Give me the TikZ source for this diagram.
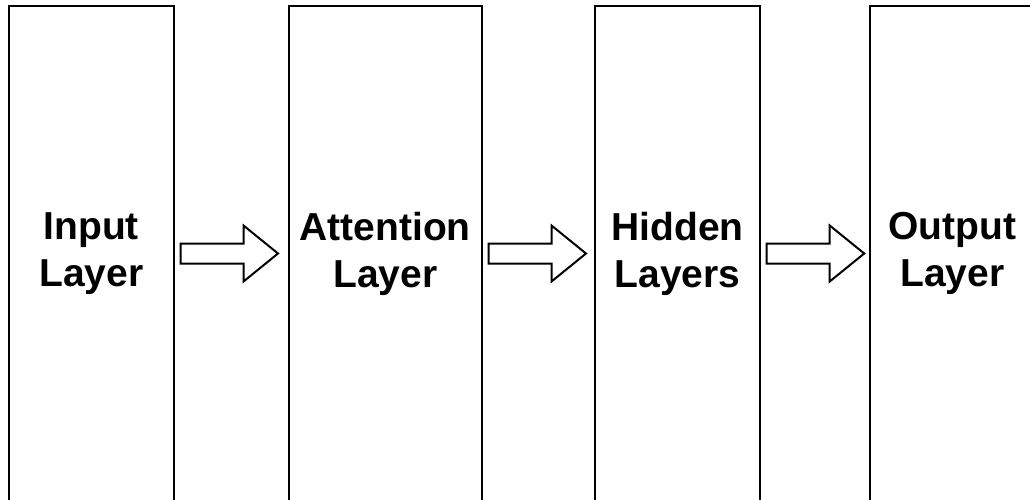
\documentclass[tikz,border=0pt]{standalone}
\usepackage{fontspec}
\setmainfont{Liberation Sans}
\usetikzlibrary{calc}
\tikzset{
  layerbox/.style={draw=black, line width=2pt, fill=white, minimum height=494pt,
    inner sep=0pt, outer sep=0pt, align=center,
    font=\fontsize{39}{47}\selectfont\bfseries},
  barrow/.style={draw=black, line width=2pt, fill=white, line join=miter}
}
\newcommand{\blockarrow}[2]{%
  \draw[barrow, shift={($(#1.east)+(#2,0)$)}]
    (0,-10) -- (63,-10) -- (63,-28) -- (97.5,0) -- (63,28) -- (63,10) -- (0,10) -- cycle;}
\begin{document}
\begin{tikzpicture}[x=1pt,y=-1pt]
\useasboundingbox (0,0) rectangle (1030,500);
\clip (0,0) rectangle (1030,500);
\fill[white] (0,0) rectangle (1030,500);
\node[layerbox, minimum width=165.5pt] (in)  at (91.25,253.5) {Input\\Layer};
\node[layerbox, minimum width=192.5pt] (att) at (385.25,253.5) {Attention\\Layer};
\node[layerbox, minimum width=165pt]   (hid) at (677.5,253.5) {Hidden\\Layers};
\node[layerbox, minimum width=165pt]   (out) at (952.5,253.5) {Output\\Layer};
\blockarrow{in}{6.5}
\blockarrow{att}{7}
\blockarrow{hid}{6.7}
\end{tikzpicture}
\end{document}
